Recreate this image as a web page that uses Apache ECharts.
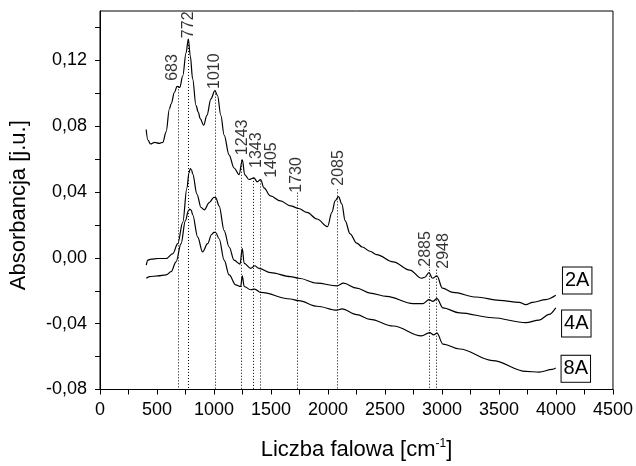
<!DOCTYPE html>
<html><head><meta charset="utf-8">
<script src="https://cdn.jsdelivr.net/npm/echarts@6/dist/echarts.min.js"></script>
<style>html,body{margin:0;padding:0;background:#fff}#c{width:636px;height:466px}</style>
</head><body><div id="c"></div>
<script>
// Spectrum 2A
const wn2A = [405,420,443,478,522,551,580,609,624,653,676,700,726,755,775,792,813,842,862,879,909,938,973,1008,1031,1060,1089,1132,1176,1220,1249,1269,1307,1350,1380,1409,1438,1496,1583,1671,1743,1816,1904,1996,2034,2063,2092,2122,2150,2194,2252,2300,2369,2427,2572,2718,2820,2849,2886,2916,2956,3003,3096,3300,3503,3678,3736,3794,3910,3998];
const ab2A = [0.078,0.0716,0.0692,0.0702,0.0696,0.0702,0.0766,0.0906,0.0936,0.1006,0.1042,0.1036,0.1106,0.1246,0.133,0.1226,0.1086,0.0926,0.0886,0.0846,0.0806,0.0866,0.0966,0.1016,0.0986,0.0866,0.0746,0.0626,0.0546,0.0506,0.0596,0.0506,0.0476,0.0486,0.0462,0.0476,0.0425,0.0376,0.0346,0.0316,0.030,0.0276,0.0236,0.019,0.0276,0.0346,0.0372,0.0326,0.0226,0.0146,0.009,0.0066,0.004,0.002,-0.0024,-0.0074,-0.0124,-0.0118,-0.009,-0.0124,-0.011,-0.0184,-0.021,-0.0238,-0.0258,-0.027,-0.0284,-0.027,-0.0254,-0.0228];
// Spectrum 4A
const wn4A = [406,420,449,508,580,639,682,726,763,780,792,803,813,851,886,915,958,1000,1015,1045,1089,1133,1176,1228,1248,1265,1322,1357,1394,1496,1671,1743,1904,2078,2136,2252,2369,2514,2747,2834,2886,2921,2956,3008,3154,3444,3736,3852,3939,3998];
const ab4A = [-0.0044,-0.0014,-0.0008,-0.0004,-0.0004,0.0026,0.0086,0.0216,0.0426,0.0515,0.0542,0.0535,0.0510,0.0386,0.0306,0.0292,0.0336,0.0368,0.0366,0.0316,0.0166,0.0066,-0.0014,-0.0038,0.0056,-0.0034,-0.0064,-0.0048,-0.0064,-0.009,-0.0114,-0.0124,-0.0154,-0.017,-0.0154,-0.0184,-0.0214,-0.0234,-0.0278,-0.0278,-0.0254,-0.0264,-0.0248,-0.0304,-0.0334,-0.0364,-0.0394,-0.0378,-0.0344,-0.0304];
// Spectrum 8A
const wn8A = [406,435,508,580,624,667,711,749,775,787,800,813,857,900,944,979,1000,1015,1045,1089,1133,1191,1234,1248,1265,1322,1357,1409,1671,1743,1904,2078,2122,2252,2369,2572,2820,2892,2927,2956,3008,3154,3444,3736,3852,3968,3998];
const ab8A = [-0.0124,-0.0114,-0.011,-0.0104,-0.0084,-0.0024,0.0086,0.0226,0.0285,0.0296,0.0290,0.0262,0.0126,0.0036,0.0086,0.0142,0.0155,0.0154,0.0116,-0.0014,-0.0104,-0.0164,-0.0174,-0.011,-0.0174,-0.0194,-0.019,-0.021,-0.025,-0.026,-0.0294,-0.0318,-0.031,-0.0345,-0.0374,-0.0414,-0.0474,-0.0454,-0.0468,-0.0458,-0.0524,-0.0554,-0.0624,-0.069,-0.0694,-0.0678,-0.067];

// Peak annotations
const peakNames = ['683','772','1010','1243','1343','1405','1730','2085','2885','2948'];
const peakX = [683,772,1010,1243,1343,1405,1730,2085,2885,2948];
const peakLineTop = [0.1042,0.133,0.1016,0.0596,0.0486,0.047,0.0396,0.0416,-0.0054,-0.0072];
const peakLabelX = [639,773,1008,1248,1373,1503,1723,2092,2856,3016];
const peakLabelY = [0.1076,0.1335,0.1026,0.0624,0.0546,0.0486,0.0396,0.0438,-0.0054,-0.0066];

const seriesNames = ['2A','4A','8A'];

const xTicks = []; for (let v = 0; v <= 4500; v += 250) xTicks.push(v);
const xLabels = []; for (let v = 0; v <= 4500; v += 500) xLabels.push(v);
const yTicks = [-0.08,-0.06,-0.04,-0.02,0,0.02,0.04,0.06,0.08,0.10,0.12,0.14];
const yLabels = [-0.08,-0.04,0,0.04,0.08,0.12];

const FONT = 'Liberation Sans, Arial, sans-serif';
const zip = (a,b) => a.map((x,i)=>[x,b[i]]);

const chart = echarts.init(document.getElementById('c'));
const lineSeries = (name, xs, ys) => ({
  name, type:'line', data: zip(xs, ys), showSymbol:false, symbol:'none',
  smooth:0.35, smoothMonotone:'x', lineStyle:{color:'#000', width:1.2}, z:3, silent:true
});

chart.setOption({
  animation:false,
  backgroundColor:'#fff',
  grid:{left:98.5, right:21.7, top:11, bottom:71.7, show:true, borderColor:'#000', borderWidth:1, backgroundColor:'transparent'},
  xAxis:{
    type:'value', min:0, max:4500,
    axisLine:{show:true, onZero:false, lineStyle:{color:'#000', width:1}},
    axisTick:{show:true, inside:false, length:5, customValues:xTicks, lineStyle:{color:'#000'}},
    axisLabel:{customValues:xLabels, color:'#000', fontFamily:FONT, fontSize:18, margin:12, formatter:v => String(v)},
    splitLine:{show:false},
    name:'{a|Liczba falowa [cm}{s|-1}{a|]}', nameLocation:'middle', nameGap:48,
    nameTextStyle:{rich:{a:{fontSize:22, fontFamily:FONT, color:'#000', lineHeight:25}, s:{fontSize:12, fontFamily:FONT, color:'#000', padding:[0,0,12,0]}}}
  },
  yAxis:{
    type:'value', min:-0.08, max:0.15,
    axisLine:{show:true, onZero:false, lineStyle:{color:'#000', width:1}},
    axisTick:{show:true, inside:false, length:5, customValues:yTicks, lineStyle:{color:'#000'}},
    axisLabel:{customValues:yLabels, color:'#000', fontFamily:FONT, fontSize:18, margin:13,
      formatter:v => (Math.abs(v) < 1e-9 ? 0 : v).toFixed(2).replace('.', ',')},
    splitLine:{show:false},
    name:'Absorbancja [j.u.]', nameLocation:'middle', nameGap:70,
    nameTextStyle:{fontSize:22, fontFamily:FONT, color:'#000', padding:[0,10,0,0]}
  },
  series:[
    lineSeries(seriesNames[0], wn2A, ab2A),
    lineSeries(seriesNames[1], wn4A, ab4A),
    lineSeries(seriesNames[2], wn8A, ab8A),
    {
      type:'scatter', symbolSize:0, silent:true, z:4,
      data: peakLabelX.map((x,i)=>({value:[x, peakLabelY[i]], name:peakNames[i]})),
      label:{show:true, position:'inside', rotate:90, align:'left', verticalAlign:'middle',
        formatter:p => p.name, color:'#000', fontFamily:FONT, fontSize:16},
      markLine:{
        silent:true, symbol:['none','none'], label:{show:false},
        lineStyle:{color:'#000', width:1, type:[1,2]},
        data: peakX.map((x,i)=>[{coord:[x, peakLineTop[i]]},{coord:[x, -0.08]}])
      }
    }
  ],
  graphic:[
    {type:'text', x:577.2, y:280.5, style:{text:seriesNames[0], font:'20px '+FONT, fill:'#000', align:'center', verticalAlign:'middle', borderColor:'#000', borderWidth:1, padding:[3,2,3,2], backgroundColor:'#fff'}},
    {type:'text', x:576.3, y:323.5, style:{text:seriesNames[1], font:'20px '+FONT, fill:'#000', align:'center', verticalAlign:'middle', borderColor:'#000', borderWidth:1, padding:[3,2,3,2], backgroundColor:'#fff'}},
    {type:'text', x:575.8, y:368.8, style:{text:seriesNames[2], font:'20px '+FONT, fill:'#000', align:'center', verticalAlign:'middle', borderColor:'#000', borderWidth:1, padding:[3,2,3,2], backgroundColor:'#fff'}}
  ]
});
</script></body></html>
